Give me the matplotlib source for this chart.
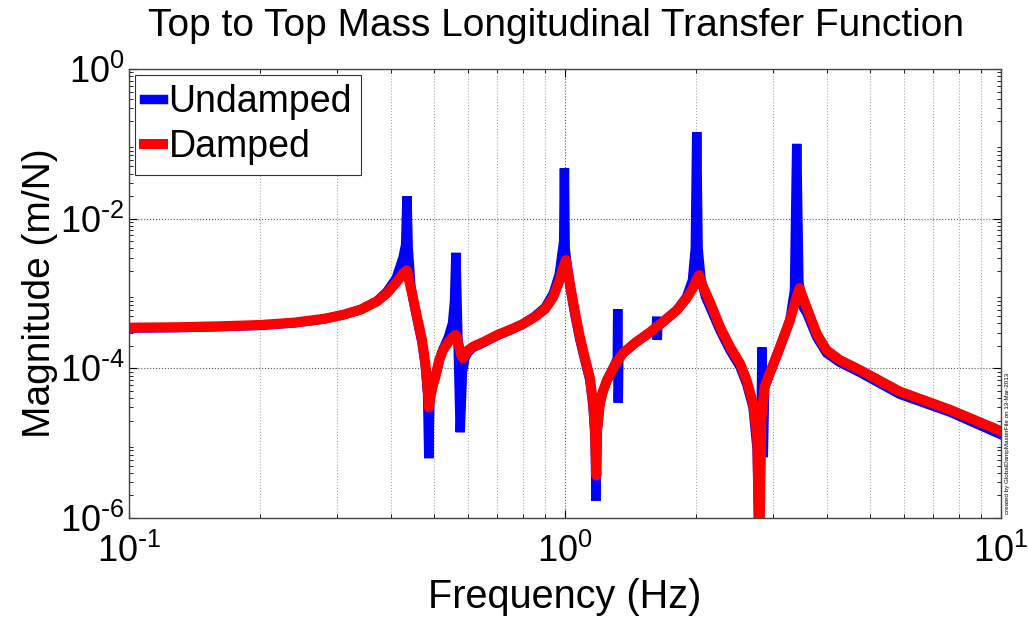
import matplotlib
matplotlib.use('Agg')
import matplotlib.pyplot as plt
from matplotlib.ticker import LogLocator, NullFormatter

plt.rcParams['font.family'] = ['Liberation Sans', 'DejaVu Sans']
plt.rcParams['mathtext.default'] = 'regular'

# Damped response
freq_damped = [0.1, 0.13, 0.16, 0.2, 0.24, 0.28, 0.31, 0.34, 0.37, 0.39,
               0.41, 0.425, 0.434, 0.44, 0.448, 0.458, 0.470, 0.478, 0.484, 0.487,
               0.492, 0.497, 0.504, 0.515, 0.525, 0.54, 0.552, 0.562, 0.57, 0.578,
               0.583, 0.59, 0.60, 0.615, 0.65, 0.70, 0.75, 0.80, 0.85, 0.90,
               0.94, 0.97, 0.99, 1.005, 1.03, 1.055, 1.082, 1.11, 1.14, 1.16,
               1.172, 1.18, 1.185, 1.203, 1.22, 1.248, 1.30, 1.359, 1.45, 1.567,
               1.68, 1.806, 1.9, 1.96, 2.0, 2.03, 2.07, 2.15, 2.268, 2.39,
               2.52, 2.61, 2.70, 2.76, 2.79, 2.82, 2.87, 2.95, 3.11, 3.28,
               3.38, 3.45, 3.58, 3.78, 3.98, 4.27, 4.75, 5.86, 7.64, 10.0]
mag_damped = [3.5e-4, 3.55e-4, 3.65e-4, 3.8e-4, 4.1e-4, 4.6e-4, 5.2e-4, 6.1e-4, 7.8e-4, 1.0e-3,
              1.4e-3, 1.85e-3, 2.05e-3, 1.4e-3, 8.9e-4, 4.8e-4, 2.4e-4, 1.2e-4, 5.5e-5, 3.0e-5,
              4.3e-5, 5.8e-5, 7.6e-5, 1.3e-4, 1.75e-4, 2.25e-4, 2.6e-4, 2.8e-4, 2.1e-4, 1.5e-4,
              1.37e-4, 1.55e-4, 1.75e-4, 1.95e-4, 2.25e-4, 2.8e-4, 3.3e-4, 3.9e-4, 4.8e-4, 6.2e-4,
              9.0e-4, 1.45e-3, 2.2e-3, 2.8e-3, 1.2e-3, 5.5e-4, 2.6e-4, 1.4e-4, 7.6e-5, 3.5e-5,
              1.4e-5, 3.7e-6, 1.5e-5, 3.4e-5, 4.8e-5, 6.9e-5, 1.1e-4, 1.6e-4, 2.2e-4, 3.05e-4,
              4.2e-4, 6.0e-4, 8.6e-4, 1.15e-3, 1.5e-3, 1.76e-3, 1.25e-3, 7.7e-4, 3.56e-4, 1.94e-4,
              1.16e-4, 6.95e-5, 3.4e-5, 1.2e-5, 3e-7, 2.0e-5, 5.7e-5, 8.6e-5, 1.9e-4, 4.4e-4,
              8.0e-4, 1.18e-3, 6.6e-4, 2.9e-4, 1.75e-4, 1.29e-4, 9.5e-5, 4.9e-5, 2.8e-5, 1.45e-5]

# Undamped response
freq_undamped = [0.1, 0.13, 0.16, 0.2, 0.24, 0.28, 0.31, 0.34, 0.37, 0.39,
                 0.41, 0.425, 0.431, 0.434, 0.437, 0.443, 0.448, 0.458, 0.470, 0.478,
                 0.484, 0.487, 0.490, 0.497, 0.504, 0.515, 0.525, 0.54, 0.552, 0.558,
                 0.562, 0.575, 0.582, 0.59, 0.60, 0.615, 0.65, 0.70, 0.75, 0.80,
                 0.85, 0.90, 0.94, 0.97, 0.993, 0.997, 1.001, 1.01, 1.03, 1.055,
                 1.082, 1.11, 1.14, 1.16, 1.172, 1.178, 1.184, 1.2, 1.22, 1.248,
                 1.30, 1.318, 1.321, 1.325, 1.329, 1.359, 1.45, 1.567, 1.62, 1.624,
                 1.628, 1.632, 1.68, 1.806, 1.9, 1.96, 1.99, 2.005, 2.02, 2.05,
                 2.1, 2.15, 2.268, 2.39, 2.52, 2.61, 2.70, 2.76, 2.79, 2.81,
                 2.83, 2.85, 2.87, 2.95, 3.11, 3.28, 3.36, 3.40, 3.44, 3.52,
                 3.58, 3.78, 3.98, 4.27, 4.75, 5.86, 7.64, 10.0]
mag_undamped = [3.45e-4, 3.5e-4, 3.6e-4, 3.75e-4, 4.05e-4, 4.55e-4, 5.2e-4, 6.1e-4, 7.9e-4, 1.05e-3,
                1.6e-3, 3.0e-3, 4.5e-3, 2.0e-2, 4.0e-3, 1.3e-3, 8.5e-4, 4.5e-4, 2.2e-4, 1.1e-4,
                4.5e-5, 6.3e-6, 4.0e-5, 5.8e-5, 7.6e-5, 1.3e-4, 1.8e-4, 2.6e-4, 4.0e-4, 8.0e-4,
                3.5e-3, 1.4e-5, 9.0e-5, 1.4e-4, 1.65e-4, 1.9e-4, 2.2e-4, 2.75e-4, 3.25e-4, 3.9e-4,
                4.9e-4, 6.5e-4, 1.0e-3, 1.8e-3, 5.0e-3, 4.7e-2, 4.0e-3, 2.6e-3, 1.1e-3, 5.0e-4,
                2.4e-4, 1.3e-4, 7.0e-5, 3.0e-5, 1.2e-5, 1.7e-6, 1.3e-5, 3.2e-5, 4.8e-5, 6.9e-5,
                1.1e-4, 1.35e-4, 6.2e-4, 3.5e-5, 1.5e-4, 1.6e-4, 2.2e-4, 3.0e-4, 3.5e-4, 4.9e-4,
                2.4e-4, 3.6e-4, 4.2e-4, 6.0e-4, 9.0e-4, 1.5e-3, 4.0e-3, 1.44e-1, 4.0e-3, 1.6e-3,
                9.0e-4, 6.6e-4, 3.2e-4, 1.75e-4, 1.05e-4, 6.2e-5, 3.0e-5, 8.0e-6, 3e-7, 6.5e-6,
                1.9e-4, 6.5e-6, 5.5e-5, 8.6e-5, 1.9e-4, 4.4e-4, 1.1e-3, 1.0e-1, 1.4e-3, 6.5e-4,
                5.6e-4, 2.6e-4, 1.6e-4, 1.2e-4, 8.8e-5, 4.5e-5, 2.6e-5, 1.3e-5]

x_ticks = [0.1, 1, 10]
x_tick_labels = [r'$10^{\text{-}1}$', r'$10^{0}$', r'$10^{1}$']
y_ticks = [1e-6, 1e-4, 1e-2, 1]
y_tick_labels = [r'$10^{\text{-}6}$', r'$10^{\text{-}4}$', r'$10^{\text{-}2}$', r'$10^{0}$']

fig = plt.figure(figsize=(10.28, 6.23), dpi=100)
ax = fig.add_axes([0.1255, 0.1685, 0.8482, 0.7207])

ax.loglog(freq_undamped, mag_undamped, color='#0000ff', lw=6.8,
          solid_joinstyle='bevel', label='Undamped')
ax.loglog(freq_damped, mag_damped, color='#ff0000', lw=7.2,
          solid_joinstyle='round', label='Damped')

ax.set_xlim(0.1, 10)
ax.set_ylim(1e-6, 1)
ax.set_xticks(x_ticks, x_tick_labels)
ax.set_yticks(y_ticks, y_tick_labels)
ax.yaxis.set_minor_locator(LogLocator(base=10, subs=range(2, 10), numticks=20))
ax.yaxis.set_minor_formatter(NullFormatter())
ax.xaxis.set_minor_formatter(NullFormatter())

ax.grid(True, which='major', axis='both', linestyle=':', color='#555555', lw=0.8)
ax.grid(True, which='minor', axis='x', linestyle=':', color='#aaaaaa', lw=0.8)
ax.tick_params(which='both', direction='in', top=True, right=True, labelsize=26)
ax.tick_params(axis='x', pad=11)
ax.tick_params(axis='y', pad=3)
ax.tick_params(which='major', length=6)
ax.tick_params(which='minor', length=3)
for s in ax.spines.values():
    s.set_color('#444444')
    s.set_linewidth(1.0)

ax.set_title('Top to Top Mass Longitudinal Transfer Function', fontsize=28, pad=24, x=0.49)
ax.set_xlabel('Frequency (Hz)', fontsize=28.5, labelpad=6)
ax.set_ylabel('Magnitude (m/N)', fontsize=28)
ax.yaxis.set_label_coords(-0.081, 0.5)

leg = ax.legend(loc='upper left', fontsize=27, handlelength=0.5, handletextpad=0.15,
                borderaxespad=0.15, borderpad=0.25, labelspacing=0.25,
                fancybox=False, framealpha=1, edgecolor='#333333')
leg.get_frame().set_linewidth(0.8)

fig.text(0.9775, 0.175, 'created by GlobalDampMasterFile on 13-Mar-2013',
         rotation=90, fontsize=4.5, ha='left', va='bottom')

fig.savefig('out.png', dpi=100)
